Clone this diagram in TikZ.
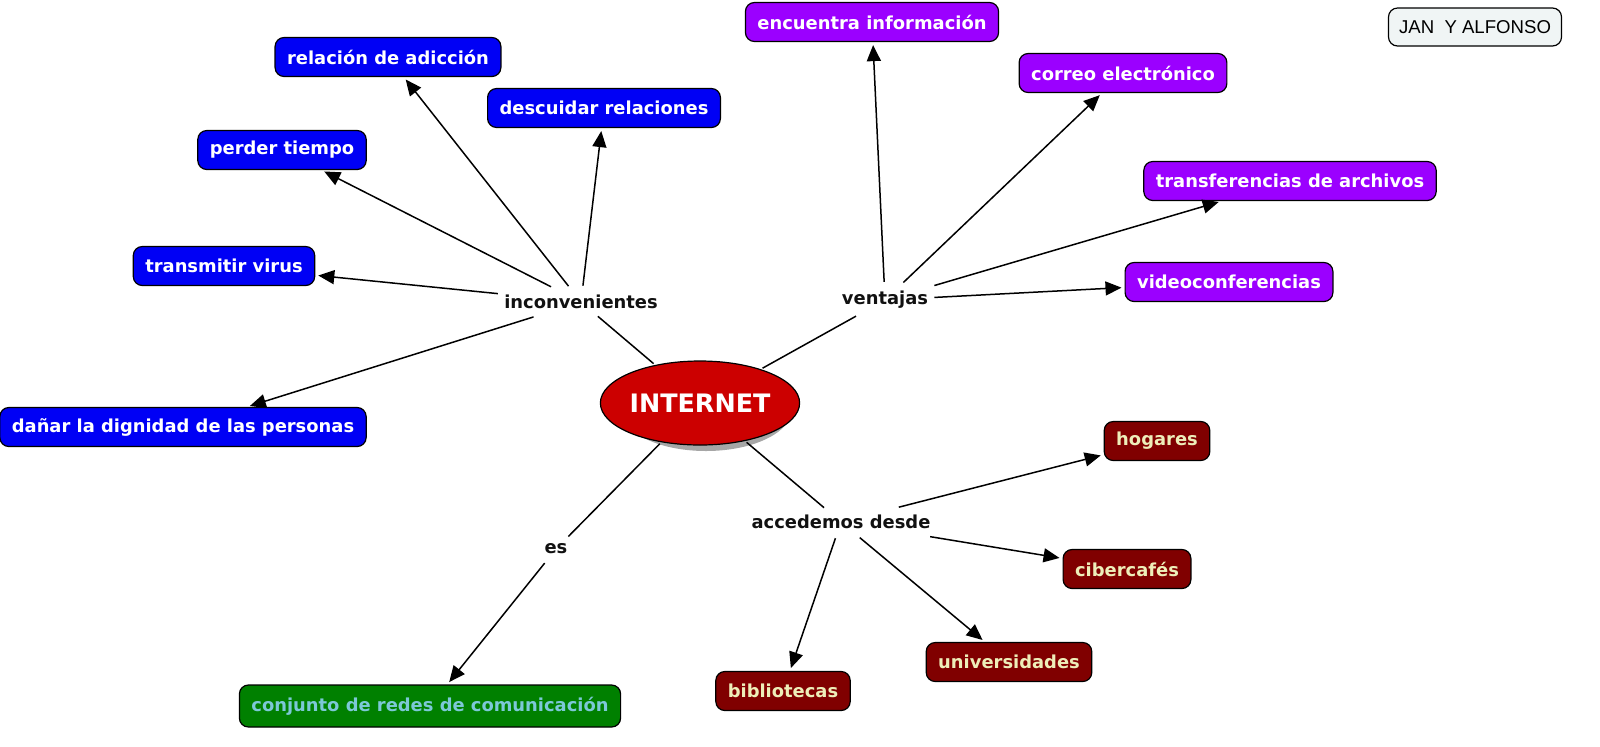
\documentclass[tikz,border=0pt]{standalone}
\usepackage{fontspec}
\setmainfont{DejaVu Sans}
\newfontfamily\arialf{Liberation Sans}
\usetikzlibrary{arrows.meta,shapes.geometric}
\definecolor{blueC}{RGB}{0,0,245}
\definecolor{purpleC}{RGB}{155,0,255}
\definecolor{maroonC}{RGB}{128,0,0}
\definecolor{paleY}{RGB}{238,238,185}
\definecolor{greenC}{RGB}{0,128,0}
\definecolor{paleC}{RGB}{125,200,215}
\definecolor{redC}{RGB}{204,0,0}
\definecolor{greyBox}{RGB}{240,245,245}
\definecolor{txtC}{RGB}{17,17,17}
\tikzset{
  concept/.style={draw=black, line width=0.6pt, rounded corners=4.5pt, minimum height=19.5pt,
    inner xsep=6pt, inner ysep=2pt, font=\fontsize{8.95}{10}\selectfont\bfseries},
  bluebox/.style={concept, fill=blueC, text=white},
  purplebox/.style={concept, fill=purpleC, text=white},
  maroonbox/.style={concept, fill=maroonC, text=paleY},
  greenbox/.style={concept, fill=greenC, text=paleC, minimum height=21pt},
  linkph/.style={inner xsep=2pt, inner ysep=3.5pt, text=txtC, font=\fontsize{8.95}{10}\selectfont\bfseries},
  conn/.style={line width=0.75pt, black, shorten <=1pt},
  arr/.style={conn, -{Triangle[length=8pt,width=7pt]}, shorten >=1.5pt},
}
\begin{document}
\begin{tikzpicture}[x=0.5pt,y=-0.5pt]
\path[use as bounding box] (0,0) rectangle (1600,746);
% central concept
\fill[gray!70] (706,409) ellipse [x radius=86, y radius=42];
\node[ellipse, draw=black, line width=0.6pt, fill=redC, text=white, minimum width=86pt, minimum height=42pt,
  inner sep=0pt, font=\fontsize{12.7}{14}\selectfont\bfseries] (int) at (700,403) {INTERNET};
% linking phrases
\node[linkph] (inc) at (581,302) {inconvenientes};
\node[linkph] (ven) at (885,300) {ventajas};
\node[linkph] (acc) at (841,522) {accedemos desde};
\node[linkph] (es) at (556,549) {es};
% blue
\node[bluebox] (rel) at (388,57) {relación de adicción};
\node[bluebox] (des) at (604,108) {descuidar relaciones};
\node[bluebox] (per) at (282,150) {perder tiempo};
\node[bluebox] (vir) at (224,266) {transmitir virus};
\node[bluebox] (dan) at (183,427) {dañar la dignidad de las personas};
% purple
\node[purplebox] (enc) at (872,22) {encuentra información};
\node[purplebox] (cor) at (1123,73) {correo electrónico};
\node[purplebox] (tra) at (1290,181) {transferencias de archivos};
\node[purplebox] (vid) at (1229,282) {videoconferencias};
% maroon
\node[maroonbox] (hog) at (1157,441) {hogares};
\node[maroonbox] (cib) at (1127,569) {cibercafés};
\node[maroonbox] (uni) at (1009,662) {universidades};
\node[maroonbox] (bib) at (783,691) {bibliotecas};
% green
\node[greenbox] (con) at (430,706) {conjunto de redes de comunicación};
% author box
\node[draw=black, line width=0.6pt, rounded corners=4.5pt, fill=greyBox, minimum width=86.5pt, minimum height=19pt,
  inner sep=2pt, font=\arialf\fontsize{9.3}{11}\selectfont] (jan) at (1475,27) {JAN\ \ Y ALFONSO};
% connectors
\draw[conn] (int) -- (inc);
\draw[conn] (int) -- (ven);
\draw[conn] (int) -- (acc);
\draw[conn] (int) -- (es);
\foreach \t in {rel,des,per,vir,dan} \draw[arr] (inc) -- (\t);
\foreach \t in {enc,cor,tra,vid} \draw[arr] (ven) -- (\t);
\foreach \t in {hog,cib,uni,bib} \draw[arr] (acc) -- (\t);
\draw[arr] (es) -- (con);
\end{tikzpicture}
\end{document}
